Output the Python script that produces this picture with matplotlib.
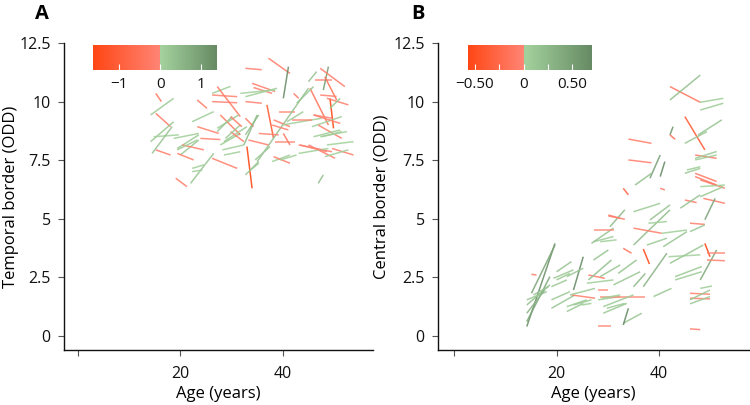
import numpy as np
import matplotlib
matplotlib.use("Agg")
import matplotlib.pyplot as plt
from matplotlib.colors import ListedColormap, Normalize, to_rgb
from matplotlib.collections import LineCollection
from matplotlib.cm import ScalarMappable

plt.rcParams["font.family"] = ["Open Sans", "DejaVu Sans"]
plt.rcParams["font.size"] = 12

# Panel A: temporal border, one segment per subject (first -> last visit)
temporal_age_start = [15.2, 14.2, 15.2, 14.2, 14.8, 15.2, 14.5, 18.7, 22.3, 23.3,
                      26.2, 26.2, 26.2, 27.2, 23.3, 23.9, 19.4, 20.0, 19.4, 20.4,
                      22.3, 22.0, 19.1, 26.2, 27.8, 27.2, 27.8, 28.5, 29.8, 37.2,
                      40.1, 32.7, 34.0, 34.3, 32.7, 32.7, 42.1, 36.9, 39.2, 35.0,
                      45.0, 46.3, 47.9, 47.3, 48.2, 45.3, 47.3, 49.2, 48.6, 32.7,
                      32.7, 38.2, 39.8, 41.8, 45.7, 46.0, 46.9, 35.3, 33.3, 40.1,
                      38.5, 43.1, 45.0, 49.6, 43.1, 48.2, 48.6, 37.9, 38.2, 33.0,
                      32.7, 46.9, 32.4, 49.2, 47.6, 46.0, 22.3, 28.2, 28.5, 34.6,
                      37.9, 19.4, 27.2, 28.8, 29.8, 31.7, 42.7, 40.8, 46.0, 47.3,
                      43.4, 39.5, 33.7]
temporal_age_end = [16.3, 18.7, 18.1, 18.7, 19.7, 18.1, 18.4, 23.6, 26.5, 25.2,
                    29.8, 31.1, 31.1, 31.7, 27.5, 27.8, 23.6, 23.6, 22.6, 24.6,
                    24.6, 26.5, 21.3, 31.1, 31.7, 31.4, 31.7, 33.0, 32.4, 41.4,
                    41.1, 35.9, 38.5, 37.9, 38.9, 35.9, 43.1, 38.2, 42.4, 45.0,
                    46.6, 49.6, 48.9, 52.1, 50.5, 48.9, 50.5, 49.9, 52.8, 35.3,
                    34.3, 41.4, 47.6, 45.7, 51.5, 49.6, 51.5, 39.2, 37.2, 41.4,
                    42.4, 49.6, 50.2, 53.8, 48.9, 52.8, 53.8, 41.4, 41.4, 34.0,
                    35.3, 47.9, 35.0, 51.2, 51.5, 51.2, 24.3, 32.4, 31.7, 37.5,
                    41.1, 23.3, 30.1, 31.7, 32.0, 38.5, 46.0, 44.0, 51.2, 52.5,
                    48.6, 42.7, 35.3]
temporal_start = [10.35, 9.43, 9.5, 8.29, 8.5, 7.94, 7.79, 8.43, 9.14, 10.07,
                  10.35, 10.28, 10.0, 10.64, 8.93, 8.43, 8.0, 7.72, 7.79, 8.15,
                  7.15, 6.51, 6.73, 7.58, 8.15, 8.86, 9.43, 8.29, 8.72, 11.85,
                  10.14, 11.42, 10.78, 10.6, 10.21, 10.0, 10.35, 9.86, 9.57, 7.44,
                  10.85, 10.92, 10.49, 11.42, 11.06, 10.57, 10.28, 10.14, 10.14, 8.58,
                  9.29, 9.22, 9.0, 9.22, 8.93, 9.43, 9.0, 8.64, 8.36, 8.64,
                  8.29, 8.15, 8.15, 8.0, 7.79, 7.65, 8.15, 7.44, 7.65, 8.08,
                  6.87, 6.51, 8.15, 9.71, 8.5, 8.5, 7.01, 7.94, 7.72, 7.51,
                  9.0, 7.94, 8.72, 8.43, 9.36, 10.35, 9.93, 9.14, 9.43, 8.5,
                  8.15, 7.51, 7.08]
temporal_end = [10.0, 10.14, 8.93, 9.14, 8.58, 7.72, 8.93, 8.64, 9.57, 9.71,
                10.65, 10.21, 9.95, 9.36, 8.64, 8.38, 8.58, 8.36, 7.51, 7.94,
                7.3, 7.79, 6.37, 7.15, 8.64, 9.43, 8.58, 8.93, 8.29, 11.2,
                11.49, 11.36, 10.43, 10.35, 10.57, 9.93, 10.14, 8.43, 9.57, 10.57,
                11.28, 10.92, 11.49, 10.64, 10.07, 9.0, 10.22, 8.86, 9.86, 9.43,
                8.93, 8.93, 9.29, 9.22, 9.36, 9.29, 8.43, 8.58, 8.15, 8.15,
                8.29, 7.86, 7.58, 7.72, 8.0, 7.94, 8.29, 7.72, 7.37, 6.3,
                7.44, 6.87, 9.43, 10.14, 8.72, 8.79, 7.08, 8.15, 7.86, 8.08,
                8.79, 8.36, 9.36, 9.0, 8.93, 10.5, 10.64, 9.57, 9.07, 8.72,
                7.86, 7.72, 7.37]

# Panel B: central border
central_age_start = [14.2, 15.1, 15.1, 14.2, 14.2, 14.2, 20.0, 19.4, 19.0, 23.3,
                     22.0, 19.0, 19.0, 22.0, 22.9, 22.6, 24.9, 26.2, 25.9, 26.2,
                     27.2, 27.2, 26.8, 27.2, 30.1, 28.1, 28.1, 28.1, 28.5, 33.0,
                     40.2, 30.4, 30.1, 35.0, 35.0, 37.9, 38.2, 35.0, 40.5, 40.8,
                     37.6, 33.0, 36.9, 36.9, 32.0, 31.1, 35.0, 41.8, 42.1, 43.1,
                     43.1, 48.0, 48.9, 49.3, 49.3, 48.0, 46.0, 46.0, 46.0, 46.0,
                     46.0, 38.9, 33.0, 33.0, 28.5, 29.1, 29.8, 48.0, 48.0, 48.0,
                     45.0, 48.6, 48.9, 46.0, 44.1, 46.0, 42.1, 42.1, 48.0, 48.0,
                     45.0, 47.6, 45.0, 42.1, 42.1, 34.0, 34.0, 38.2, 40.2, 35.3,
                     47.0, 47.0, 47.0, 47.0, 47.0, 45.0, 14.2, 15.5, 23.3, 28.8,
                     22.0, 20.0, 29.1, 35.0, 28.5, 45.4]
central_age_end = [19.7, 19.7, 16.1, 18.7, 18.7, 18.1, 22.9, 23.3, 22.0, 25.2,
                   25.2, 22.6, 23.6, 25.2, 27.5, 27.5, 26.8, 29.4, 31.1, 30.7,
                   30.1, 31.1, 31.1, 31.1, 32.4, 30.1, 32.4, 30.7, 32.4, 34.0,
                   41.1, 33.3, 33.3, 40.2, 42.1, 41.5, 42.1, 40.5, 45.4, 45.4,
                   41.5, 34.6, 38.1, 41.5, 35.6, 36.3, 37.3, 48.0, 48.6, 48.3,
                   48.3, 51.2, 49.9, 52.8, 52.8, 50.3, 49.9, 49.9, 49.9, 49.9,
                   48.0, 42.4, 36.6, 34.0, 35.0, 35.0, 33.3, 52.8, 52.8, 52.5,
                   47.3, 52.8, 50.9, 48.9, 48.0, 48.9, 48.0, 48.0, 52.5, 52.5,
                   48.9, 52.2, 49.3, 42.7, 43.1, 38.5, 38.5, 40.2, 41.1, 38.5,
                   51.2, 51.2, 51.2, 51.2, 51.2, 48.0, 17.7, 18.4, 26.8, 32.4,
                   25.9, 22.6, 33.7, 37.3, 31.7, 48.0]
central_start = [0.40, 1.82, 2.63, 0.61, 1.32, 1.54, 2.74, 2.46, 2.1, 1.96,
                 2.53, 1.54, 1.18, 1.04, 1.75, 1.75, 1.32, 2.6, 2.25, 2.39,
                 3.24, 4.02, 3.95, 4.52, 5.16, 1.96, 1.54, 0.44, 2.53, 6.3,
                 6.3, 4.66, 5.12, 5.3, 3.88, 4.81, 4.95, 4.6, 4.38, 3.81,
                 3.88, 3.74, 3.71, 2.1, 2.67, 2.18, 2.1, 3.38, 3.1, 2.53,
                 2.39, 2.39, 3.95, 3.53, 3.24, 2.03, 1.82, 1.61, 1.54, 1.37,
                 0.3, 1.68, 0.54, 0.47, 1.68, 1.25, 1.18, 6.66, 6.37, 5.94,
                 5.8, 5.87, 4.96, 4.81, 5.45, 4.45, 10.64, 10.07, 9.97, 9.64,
                 9.36, 8.58, 8.22, 8.58, 8.58, 8.4, 7.51, 6.73, 6.8, 6.44,
                 7.72, 7.58, 7.51, 6.94, 6.8, 6.94, 0.97, 1.75, 1.32, 1.61,
                 1.25, 2.39, 0.97, 1.68, 4.02, 7.08]
central_end = [3.95, 3.88, 2.6, 2.53, 2.18, 1.89, 3.17, 2.82, 2.39, 3.38,
               2.89, 1.89, 1.75, 1.39, 1.61, 2.03, 1.39, 2.46, 2.39, 3.24,
               3.67, 4.24, 4.6, 4.52, 5.02, 1.96, 1.68, 0.44, 3.03, 6.02,
               6.23, 5.38, 4.98, 5.66, 5.38, 4.88, 5.59, 4.38, 4.52, 4.45,
               4.17, 3.53, 3.07, 3.53, 3.24, 2.74, 2.67, 3.46, 3.88, 2.96,
               2.74, 3.67, 3.38, 3.53, 3.21, 2.13, 1.78, 1.58, 1.96, 1.68,
               0.27, 2.03, 0.97, 1.18, 1.68, 1.75, 1.39, 6.3, 6.44, 6.37,
               5.69, 5.66, 5.87, 4.76, 6.02, 4.74, 9.97, 11.13, 10.14, 9.93,
               7.94, 9.22, 8.72, 8.93, 8.39, 8.22, 7.39, 7.72, 7.44, 6.94,
               7.58, 7.87, 7.72, 6.59, 6.44, 7.15, 1.96, 2.1, 1.54, 1.75,
               1.54, 2.67, 1.39, 1.68, 4.1, 7.22]

y_ticks = [0, 2.5, 5, 7.5, 10, 12.5]
y_ticklabels = ["0", "2.5", "5", "7.5", "10", "12.5"]
x_ticks = [0, 20, 40]
x_ticklabels = ["", "20", "40"]

temporal_cbar_ticks = [-1, 0, 1]
temporal_cbar_labels = ["\u22121", "0", "1"]
central_cbar_ticks = [-0.5, 0, 0.5]
central_cbar_labels = ["\u22120.50", "0", "0.50"]


def MakeCmap(vmin, vmax):
    n = 512
    k = int(round(n * (-vmin) / (vmax - vmin)))
    red = np.linspace(to_rgb("#FF4614"), to_rgb("#FF8474"), k)
    green = np.linspace(to_rgb("#A4D29D"), to_rgb("#668A64"), n - k)
    return ListedColormap(np.vstack([red, green]))


def DrawPanel(fig, rect, crect, a0, a1, y0, y1, vmin, vmax, xlim,
              cticks, clabels, cminor, ylabel, ylabel_x, letter, letter_x):
    ax = fig.add_axes(rect)
    a0, a1, y0, y1 = map(np.asarray, (a0, a1, y0, y1))
    slopes = (y1 - y0) / (a1 - a0)
    cmap = MakeCmap(vmin, vmax)
    norm = Normalize(vmin=vmin, vmax=vmax)
    segs = [[(a, b), (c, d)] for a, b, c, d in zip(a0, y0, a1, y1)]
    lc = LineCollection(segs, colors=cmap(norm(np.clip(slopes, vmin, vmax))),
                        linewidths=1.1, alpha=0.88)
    ax.add_collection(lc)

    ax.set_xlim(*xlim)
    ax.set_ylim(-0.6, 12.5)
    ax.set_xticks(x_ticks)
    ax.set_xticklabels(x_ticklabels)
    ax.set_yticks(y_ticks)
    ax.set_yticklabels(y_ticklabels)
    ax.set_xlabel("Age (years)", labelpad=3, fontsize=12)
    ax.set_ylabel(ylabel, fontsize=12)
    ax.yaxis.set_label_coords(ylabel_x, 0.5)
    for s in ["top", "right"]:
        ax.spines[s].set_visible(False)
    for s in ["left", "bottom"]:
        ax.spines[s].set_linewidth(1.0)
        ax.spines[s].set_color("#111111")
    ax.tick_params(length=4, width=0.8, color="#555555", labelcolor="#111111",
                   labelsize=11.5)
    ax.tick_params(axis="x", pad=7.5)
    ax.tick_params(axis="y", pad=5.5)

    cax = fig.add_axes(crect)
    cb = fig.colorbar(ScalarMappable(norm=norm, cmap=cmap), cax=cax,
                      orientation="horizontal")
    cb.outline.set_visible(False)
    cb.set_ticks(cticks, labels=clabels)
    if cminor:
        cb.ax.set_xticks(cminor, minor=True)
    cax.tick_params(which="both", direction="in", color="white", length=4,
                    width=0.8, pad=5, labelsize=11, labelcolor="#111111")

    fig.text(letter_x, 1 - 14 / 405, letter, fontsize=14.5, fontweight="bold",
             va="center", ha="left")
    return ax


fig = plt.figure(figsize=(7.5, 4.05), dpi=100)

DrawPanel(fig, [64 / 750, 55 / 405, 309 / 750, 307 / 405],
          [93 / 750, 335 / 405, 124 / 750, 25 / 405],
          temporal_age_start, temporal_age_end, temporal_start, temporal_end,
          -1.65, 1.4, (-2.7, 57.6),
          temporal_cbar_ticks, temporal_cbar_labels, None,
          "Temporal border (ODD)", -0.145, "A", 35 / 750)

DrawPanel(fig, [438 / 750, 55 / 405, 311 / 750, 307 / 405],
          [468 / 750, 335 / 405, 124 / 750, 25 / 405],
          central_age_start, central_age_end, central_start, central_end,
          -0.57, 0.70, (-3.1, 57.5),
          central_cbar_ticks, central_cbar_labels, [-0.25, 0.25],
          "Central border (ODD)", -0.155, "B", 411 / 750)

fig.savefig("out.png", dpi=100)
